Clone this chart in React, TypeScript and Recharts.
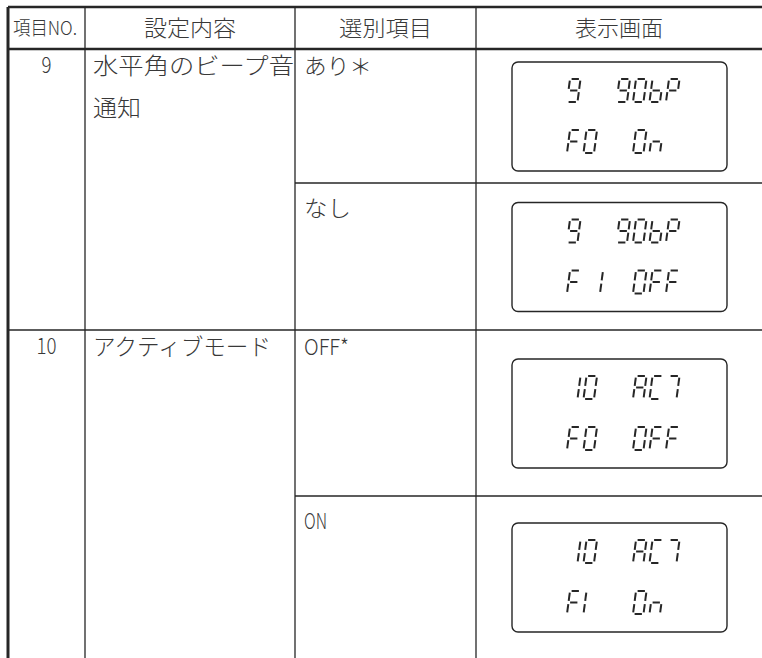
import React from "react";
import { ScatterChart, Scatter, XAxis, YAxis, ReferenceLine, ReferenceArea } from "recharts";

const W = 762;
const H = 658;

// table content
const headers = ["項目NO.", "設定内容", "選別項目", "表示画面"];
const itemNos = ["9", "10"];
const settingNames = [["水平角のビープ音", "通知"], ["アクティブモード"]];
const choices = [["あり＊", "なし"], ["OFF*", "ON"]];
const displayTop = [["9  90bP", "9  90bP"], ["10  AC7", "10  AC7"]];
const displayBottom = [["F0  0n", "F I 0FF"], ["F0  0FF", "FI  0n"]];

// grid (chart units == px)
const colEdges = [8, 85, 295, 476, W];
const tableTop = 7;
const headerBottom = 49;
const subRowEdges = [[49, 183, 330], [330, 496, H]];

// widths the condensed print face takes
const textWidths: Record<string, number> = {
  "項目NO.": 64, "設定内容": 92, "選別項目": 93, "表示画面": 88,
  "9": 10, "10": 20, "水平角のビープ音": 201, "通知": 48, "アクティブモード": 178,
  "あり＊": 68, "なし": 47, "OFF*": 45, "ON": 23,
};

const INK = "#262626";
const TEXT_INK = "#383838";
const FONT = '"Noto Sans CJK JP Light", "Noto Sans CJK JP DemiLight", "Noto Sans CJK JP", "Noto Sans", sans-serif';

type Cell = { x: number; y: number; label: string; anchor: "start" | "middle"; size: number };

const cells: Cell[] = [];
headers.forEach((h, i) => {
  const mid = (colEdges[i] + colEdges[i + 1]) / 2;
  if (i === 0) cells.push({ x: colEdges[0] + 5, y: 35, label: h, anchor: "start", size: 19 });
  else cells.push({ x: mid, y: 36, label: h, anchor: "middle", size: 22 });
});
itemNos.forEach((no, r) => {
  const top = subRowEdges[r][0];
  cells.push({ x: (colEdges[0] + colEdges[1]) / 2, y: top + 24, label: no, anchor: "middle", size: 22 });
  settingNames[r].forEach((s, k) =>
    cells.push({ x: colEdges[1] + 8, y: top + 25 + k * 42, label: s, anchor: "start", size: 23 })
  );
  choices[r].forEach((c, k) =>
    cells.push({ x: colEdges[2] + 9, y: subRowEdges[r][k] + (k === 0 ? 25 : 33), label: c, anchor: "start", size: 22 })
  );
});

// seven segment display
const SEGS: Record<string, string> = {
  "0": "abcdef", "1": "bc", I: "ef", "7": "abc", "9": "abcdfg", A: "abcefg",
  C: "adef", F: "aefg", P: "abefg", b: "cdefg", n: "ceg", " ": "",
};

function Glyph({ ch, x, y, w, h }: { ch: string; x: number; y: number; w: number; h: number }) {
  const g = 1.6;
  const slant = 3;
  const m = h / 2;
  const seg: Record<string, number[]> = {
    a: [g, 0, w - g, 0], b: [w, g, w, m - g], c: [w, m + g, w, h - g], d: [g, h, w - g, h],
    e: [0, m + g, 0, h - g], f: [0, g, 0, m - g], g: [g, m, w - g, m],
  };
  const sk = (px: number, py: number) => x + px + (slant * (h - py)) / h;
  return (
    <g>
      {(SEGS[ch] ?? "").split("").map((s) => {
        const [x1, y1, x2, y2] = seg[s];
        return (
          <line key={s} x1={sk(x1, y1)} y1={y + y1} x2={sk(x2, y2)} y2={y + y2}
            stroke={INK} strokeWidth={2} strokeLinecap="butt" />
        );
      })}
    </g>
  );
}

function LcdBox(props: any) {
  const { x, y, width, height, top, bottom } = props;
  const s = width / 215;
  const v = height / 109;
  const gw = 10.5 * s;
  const gh = 23 * v;
  const pitch = 16.5 * s;
  const x0 = x + 55 * s;
  const rows = [top as string, bottom as string];
  return (
    <g>
      <rect x={x} y={y} width={width} height={height} rx={6} ry={6} fill="#fff" stroke={INK} strokeWidth={1.4} />
      {rows.map((line, li) =>
        line.split("").map((ch, ci) => (
          <Glyph key={`${li}-${ci}`} ch={ch} x={x0 + ci * pitch} y={y + (li === 0 ? 17 : 68) * v} w={gw} h={gh} />
        ))
      )}
    </g>
  );
}

function CellText(props: any) {
  const { cx, cy, payload } = props;
  const c = payload as Cell;
  return (
    <text x={cx} y={cy} textAnchor={c.anchor} fontSize={c.size} fontFamily={FONT} fontWeight={300}
      fill={TEXT_INK} textLength={textWidths[c.label]} lengthAdjust="spacingAndGlyphs">
      {c.label}
    </text>
  );
}

export default function App() {
  const boxLeft = colEdges[3] + 36;
  const boxRight = colEdges[4] - 35;
  return (
    <div style={{ position: "absolute", left: 0, top: 0, background: "#fff" }}>
      <ScatterChart width={W} height={H} margin={{ top: 0, right: 0, bottom: 0, left: 0 }}>
        <XAxis type="number" dataKey="x" domain={[0, W]} hide />
        <YAxis type="number" dataKey="y" domain={[0, H]} reversed hide />

        {/* horizontal rules */}
        <ReferenceLine segment={[{ x: colEdges[0], y: tableTop }, { x: W, y: tableTop }]} stroke={INK} strokeWidth={2.6} ifOverflow="visible" />
        <ReferenceLine segment={[{ x: colEdges[0], y: headerBottom }, { x: W, y: headerBottom }]} stroke={INK} strokeWidth={2.6} ifOverflow="visible" />
        <ReferenceLine segment={[{ x: colEdges[0], y: subRowEdges[1][0] }, { x: W, y: subRowEdges[1][0] }]} stroke={INK} strokeWidth={1.3} ifOverflow="visible" />
        {subRowEdges.map((r, i) => (
          <ReferenceLine key={`sub${i}`} segment={[{ x: colEdges[2], y: r[1] }, { x: W, y: r[1] }]} stroke={INK} strokeWidth={1.3} ifOverflow="visible" />
        ))}

        {/* vertical rules */}
        {colEdges.slice(0, 4).map((cx, i) => (
          <ReferenceLine key={`v${i}`} segment={[{ x: cx, y: tableTop }, { x: cx, y: H }]} stroke={INK}
            strokeWidth={i === 0 ? 3 : 1.3} ifOverflow="visible" />
        ))}

        {/* display screens */}
        {subRowEdges.flatMap((r, ri) =>
          [0, 1].map((k) => {
            const mid = (r[k] + r[k + 1]) / 2;
            return (
              <ReferenceArea key={`lcd${ri}${k}`} x1={boxLeft} x2={boxRight} y1={mid - 54} y2={mid + 55}
                ifOverflow="visible"
                shape={(p: any) => <LcdBox {...p} top={displayTop[ri][k]} bottom={displayBottom[ri][k]} />} />
            );
          })
        )}

        <Scatter data={cells} shape={<CellText />} isAnimationActive={false} />
      </ScatterChart>
    </div>
  );
}
